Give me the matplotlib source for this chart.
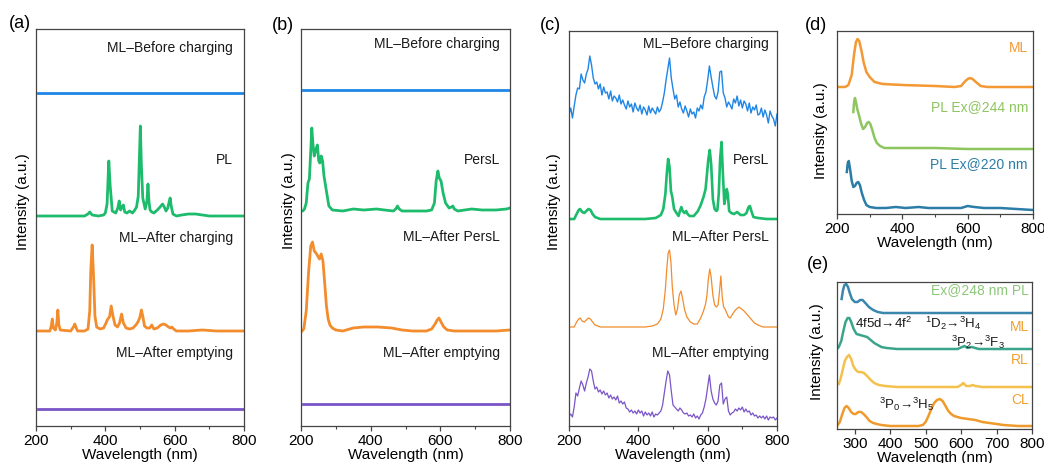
import matplotlib
matplotlib.use("Agg")
import matplotlib.pyplot as plt
import numpy as np
from matplotlib.ticker import MultipleLocator

plt.rcParams["font.family"] = ["Liberation Sans", "DejaVu Sans"]
plt.rcParams["mathtext.fontset"] = "custom"
plt.rcParams["mathtext.rm"] = "Liberation Sans"
plt.rcParams["mathtext.it"] = "Liberation Sans:italic"
plt.rcParams["mathtext.bf"] = "Liberation Sans:bold"

# ---------------- panel (a) ----------------
a_flat_wl = [205, 800]
a_flat_val = [0, 0]

a_pl_wl = [200, 340, 350, 355, 362, 380, 395, 400, 405, 410, 414, 420, 430, 436, 440, 444,
           448, 452, 456, 462, 470, 478, 485, 490, 495, 498, 501, 504, 508, 515, 520, 523,
           526, 529, 534, 540, 550, 558, 565, 570, 575, 580, 584, 587, 590, 595, 605, 620,
           640, 660, 680, 700, 720, 800]
a_pl_val = [0, 0, 2, 4, 1, 0, 1, 3, 12, 55, 30, 5, 3, 8, 15, 6,
            9, 11, 4, 3, 5, 3, 6, 9, 20, 55, 90, 50, 18, 7, 15, 32,
            14, 6, 4, 3, 6, 9, 12, 9, 5, 8, 14, 18, 10, 2, 0, 1,
            2, 2, 1, 0, 0, 0]

a_ml_wl = [205, 240, 244, 247, 250, 256, 260, 263, 266, 270, 300, 308, 312, 316, 320, 340,
           350, 355, 358, 362, 366, 370, 375, 385, 395, 402, 407, 412, 417, 422, 428, 435,
           441, 447, 452, 460, 470, 480, 488, 494, 500, 504, 508, 513, 520, 528, 534, 540,
           550, 560, 568, 575, 582, 588, 592, 597, 605, 640, 680, 720, 800]
a_ml_val = [0, 0, 5, 12, 3, 1, 8, 21, 6, 1, 0, 4, 7, 3, 0, 0,
            2, 20, 60, 86, 55, 15, 4, 2, 3, 8, 12, 14, 25, 15, 6, 4,
            8, 17, 8, 3, 2, 3, 6, 9, 14, 21, 15, 5, 3, 3, 6, 2,
            3, 6, 7, 6, 4, 3, 4, 2, 0, 0, 1, 0, 0]

a_offsets = [333, 210, 95, 17]
a_labels = ["ML\u2013Before charging", "PL", "ML\u2013After charging", "ML\u2013After emptying"]

# ---------------- panel (b) ----------------
b_persl_wl = [200, 205, 210, 215, 220, 224, 228, 231, 234, 238, 243, 247, 251, 254, 258, 262,
              266, 272, 280, 290, 320, 350, 380, 417, 440, 465, 472, 477, 482, 490, 520, 560,
              575, 583, 588, 593, 597, 602, 608, 615, 625, 632, 636, 640, 650, 670, 690, 720,
              760, 790, 800]
b_persl_val = [0, 0, 2, 8, 28, 32, 60, 83, 68, 55, 62, 66, 50, 48, 55, 50,
               35, 22, 5, 1, 0, 2, 1, 2, 1, 0, 2, 5, 2, 0, 0, 0,
               1, 8, 30, 40, 33, 30, 18, 8, 3, 4, 5, 2, 0, 1, 2, 1,
               1, 2, 3]

b_ml_wl = [203, 208, 215, 222, 228, 233, 238, 243, 248, 253, 258, 263, 268, 273, 278, 283,
           290, 300, 320, 350, 380, 420, 460, 490, 520, 560, 575, 585, 591, 596, 602, 610,
           620, 640, 680, 720, 760, 800]
b_ml_val = [0, 2, 20, 60, 85, 89, 80, 78, 75, 72, 77, 70, 48, 25, 12, 6,
            3, 1, 0, 3, 4, 4, 3, 1, 0, 0, 2, 7, 11, 13, 9, 4,
            1, 0, 0, 0, 0, 1]

b_offsets = [336, 215, 95, 22]
b_labels = ["ML\u2013Before charging", "PersL", "ML\u2013After PersL", "ML\u2013After emptying"]

# ---------------- panel (c) ----------------
c_noisy_wl = list(range(200, 801, 5))
c_before_val = [12, 18, 8, 20, 31, 38, 37, 52, 46, 43, 52, 57, 70, 61, 48, 42,
                44, 37, 42, 31, 39, 33, 34, 27, 35, 25, 30, 28, 24, 31, 22, 26,
                21, 17, 25, 19, 22, 14, 23, 18, 15, 21, 12, 19, 16, 11, 20, 13,
                18, 15, 12, 19, 14, 17, 24, 33, 46, 57, 68, 48, 37, 27, 31, 19,
                24, 17, 13, 20, 15, 9, 17, 12, 14, 8, 18, 15, 21, 17, 29, 34,
                46, 60, 49, 39, 30, 27, 34, 54, 55, 33, 28, 19, 24, 21, 17, 27,
                23, 30, 20, 26, 18, 25, 22, 15, 23, 13, 19, 16, 21, 11, 12, 18,
                9, 16, 11, 3, 15, 10, 7, 0, 12]
c_empty_val = [5, 7, 4, 14, 28, 25, 33, 40, 36, 30, 38, 44, 52, 50, 40, 32,
               34, 29, 31, 27, 30, 26, 28, 23, 26, 22, 24, 21, 25, 18, 20, 17,
               19, 13, 12, 9, 11, 8, 10, 7, 11, 8, 10, 5, 9, 6, 8, 5,
               9, 4, 7, 6, 8, 10, 16, 28, 40, 50, 46, 30, 16, 14, 12, 10,
               13, 11, 8, 7, 8, 5, 6, 4, 7, 3, 5, 2, 6, 8, 14, 22,
               34, 46, 30, 22, 18, 16, 20, 36, 38, 17, 22, 24, 10, 6, 8, 9,
               12, 10, 13, 11, 14, 9, 12, 9, 10, 6, 8, 5, 6, 3, 5, 3,
               5, 2, 5, 1, 4, 3, 4, 1, 3]

c_persl_wl = [200, 215, 222, 228, 232, 238, 244, 250, 256, 262, 268, 275, 290, 350, 420, 450,
              465, 472, 478, 482, 486, 490, 494, 498, 503, 510, 516, 520, 524, 528, 533, 538,
              542, 548, 560, 572, 580, 588, 594, 598, 602, 606, 610, 615, 620, 625, 628, 632,
              636, 640, 644, 648, 652, 655, 658, 662, 668, 676, 685, 695, 705, 712, 718, 722,
              726, 732, 745, 770, 800]
c_persl_val = [0, 0, 5, 9, 10, 7, 6, 8, 10, 9, 5, 2, 0, 0, 0, 1,
               4, 10, 25, 45, 60, 52, 28, 22, 10, 6, 3, 8, 12, 8, 6, 8,
               5, 3, 3, 8, 14, 22, 30, 45, 60, 69, 55, 20, 10, 8, 9, 25,
               60, 77, 45, 15, 22, 30, 25, 8, 6, 5, 7, 4, 4, 6, 12, 13,
               8, 2, 1, 0, 0]

c_ml_wl = [200, 215, 222, 228, 232, 238, 244, 250, 256, 262, 268, 275, 290, 350, 420, 440,
           455, 465, 472, 478, 482, 486, 490, 494, 498, 503, 508, 513, 518, 523, 528, 533,
           540, 550, 560, 570, 580, 588, 594, 598, 602, 606, 610, 615, 620, 625, 630, 634,
           638, 642, 646, 650, 655, 660, 665, 672, 680, 690, 698, 705, 715, 725, 735, 745,
           760, 780, 800]
c_ml_val = [0, 0, 5, 8, 9, 6, 5, 7, 9, 8, 5, 2, 0, 0, 0, 1,
            3, 8, 18, 38, 58, 74, 77, 65, 40, 22, 12, 18, 32, 36, 28, 18,
            10, 5, 3, 3, 9, 16, 23, 32, 48, 58, 50, 32, 22, 20, 22, 35,
            51, 30, 20, 18, 14, 10, 9, 13, 17, 20, 18, 16, 12, 8, 4, 2,
            0, 0, 0]

c_offsets = [300, 207, 99, 5]
c_labels = ["ML\u2013Before charging", "PersL", "ML\u2013After PersL", "ML\u2013After emptying"]

# ---------------- panel (d) ----------------
d_ml_wl = [200, 225, 235, 245, 252, 258, 263, 268, 275, 282, 290, 300, 315, 340, 400, 500,
           560, 580, 590, 600, 607, 615, 625, 640, 660, 700, 800]
d_ml_val = [0, 0, 2, 12, 32, 45, 48, 46, 36, 24, 15, 10, 5, 3, 2, 1,
            0, 1, 5, 8, 9, 8, 5, 1, 0, 0, 0]

d_pl244_wl = [250, 252, 255, 258, 262, 268, 274, 280, 286, 292, 297, 302, 308, 315, 322, 332,
              345, 400, 500, 600, 700, 800]
d_pl244_val = [37, 46, 51, 47, 40, 33, 25, 20, 22, 26, 27, 25, 19, 11, 6, 3,
               1, 1, 1, 0, 0, 0]

d_pl220_wl = [230, 233, 236, 240, 245, 250, 255, 260, 265, 270, 276, 283, 290, 300, 320, 350,
              380, 410, 450, 480, 520, 580, 600, 620, 650, 700, 750, 800]
d_pl220_val = [37, 46, 48, 40, 28, 22, 23, 26, 27, 24, 16, 9, 4, 2, 1, 1,
               2, 1, 2, 1, 1, 1, 3, 2, 1, 1, 0, -1]

d_offsets = [127, 65, 5]
d_labels = ["ML", "PL Ex@244 nm", "PL Ex@220 nm"]

# ---------------- panel (e) ----------------
e_pl_wl = [263, 267, 271, 276, 281, 286, 292, 300, 308, 315, 322, 330, 340, 352, 365, 380,
           420, 500, 600, 700, 800]
e_pl_val = [14, 23, 28, 29, 26, 20, 14, 11, 11, 13, 13, 10, 6, 3, 1, 0,
            0, 0, 0, 0, 0]

e_ml_wl = [250, 255, 262, 268, 274, 280, 285, 290, 297, 305, 315, 325, 335, 345, 355, 365,
           375, 390, 420, 500, 590, 603, 610, 618, 630, 650, 700, 800]
e_ml_val = [0, 2, 8, 18, 27, 31, 31, 27, 20, 15, 14, 13, 12, 9, 6, 4,
            2, 1, 0, 0, 0, 2, 3, 1, 2, 0, 0, 0]

e_rl_wl = [255, 260, 266, 272, 278, 284, 290, 296, 303, 310, 318, 326, 335, 345, 355, 368,
           385, 420, 500, 590, 600, 606, 614, 625, 633, 640, 660, 700, 800]
e_rl_val = [3, 8, 17, 26, 30, 32, 28, 21, 17, 15, 15, 14, 11, 7, 4, 2,
            1, 0, 0, 0, 2, 4, 1, 1, 2, 1, 0, 0, 0]

e_cl_wl = [250, 258, 265, 271, 277, 283, 290, 297, 303, 310, 318, 325, 333, 342, 352, 362,
           375, 400, 450, 480, 492, 500, 508, 516, 524, 532, 540, 548, 556, 564, 572, 580,
           600, 620, 640, 660, 680, 700, 720, 760, 800]
e_cl_val = [0, 4, 12, 18, 20, 18, 14, 12, 12, 14, 14, 12, 9, 5, 3, 2,
            1, 0, 0, 0, 1, 4, 10, 17, 23, 26, 27, 25, 20, 15, 12, 10,
            8, 7, 6, 4, 3, 2, 1, 0, 0]

e_offsets = [116, 80, 42, 3]
e_labels = ["Ex@248 nm PL", "ML", "RL", "CL"]

# colours
blue = "#1f86e6"
green = "#1dbb6c"
orange = "#f28c2c"
purple = "#7a55c8"
d_colors = ["#f39833", "#8dc55e", "#2b7ca6"]
e_colors = ["#3a86ad", "#3aa58b", "#f4c14d", "#ef9a2c"]
e_text_colors = ["#8dc77a", "#f0a030", "#f0a030", "#f0a030"]

W, H = 1044, 464
fig = plt.figure(figsize=(W / 100, H / 100), dpi=100)


def add_panel(left, top, right, bottom):
    return fig.add_axes([left / W, 1 - bottom / H, (right - left) / W, (bottom - top) / H])


def style_axis(ax, xlim, major, minor, ylabel_x, ylabel_y):
    ax.set_xlim(*xlim)
    ax.set_yticks([])
    ax.xaxis.set_major_locator(MultipleLocator(major))
    if minor:
        ax.xaxis.set_minor_locator(MultipleLocator(minor))
    ax.tick_params(axis="x", which="major", direction="out", length=3.5, width=0.9,
                   labelsize=11, pad=1.5, color="#444444")
    ax.tick_params(axis="x", which="minor", direction="out", length=2.5, width=0.8,
                   color="#444444")
    for sp in ax.spines.values():
        sp.set_color("#444444")
        sp.set_linewidth(0.9)
    ax.set_xlabel("Wavelength (nm)", fontsize=11, labelpad=0)
    ax.set_ylabel("Intensity (a.u.)", fontsize=11)
    ax.yaxis.set_label_coords(ylabel_x, ylabel_y)


def put_labels(ax, x, ys, labels, colors=None, size=10):
    for i, (y, lab) in enumerate(zip(ys, labels)):
        c = colors[i] if colors else "#1a1a1a"
        ax.text(x, y, lab, transform=ax.transAxes, ha="right", va="center",
                fontsize=size, color=c)


# (a)
ax_a = add_panel(36, 30, 244, 427)
ax_a.plot(a_flat_wl, np.array(a_flat_val) + a_offsets[0], color=blue, lw=2.0)
ax_a.plot(a_pl_wl, np.array(a_pl_val) + a_offsets[1], color=green, lw=2.0)
ax_a.plot(a_ml_wl, np.array(a_ml_val) + a_offsets[2], color=orange, lw=2.0)
ax_a.plot(a_flat_wl, np.array(a_flat_val) + a_offsets[3], color=purple, lw=2.0)
ax_a.set_ylim(0, 397)
style_axis(ax_a, (200, 800), 200, 100, -0.03, 0.567)
put_labels(ax_a, 0.947, [0.955, 0.673, 0.476, 0.186], a_labels)

# (b)
ax_b = add_panel(301, 30, 510, 427)
ax_b.plot(a_flat_wl, np.array(a_flat_val) + b_offsets[0], color=blue, lw=2.0)
ax_b.plot(b_persl_wl, np.array(b_persl_val) + b_offsets[1], color=green, lw=2.0)
ax_b.plot(b_ml_wl, np.array(b_ml_val) + b_offsets[2], color=orange, lw=2.0)
ax_b.plot(a_flat_wl, np.array(a_flat_val) + b_offsets[3], color=purple, lw=2.0)
ax_b.set_ylim(0, 397)
style_axis(ax_b, (200, 800), 200, 100, -0.024, 0.57)
put_labels(ax_b, 0.952, [0.965, 0.673, 0.479, 0.186], b_labels)

# (c)
ax_c = add_panel(569, 32, 777, 427)
ax_c.plot(c_noisy_wl, np.array(c_before_val) + c_offsets[0], color=blue, lw=1.0)
ax_c.plot(c_persl_wl, np.array(c_persl_val) + c_offsets[1], color=green, lw=1.9)
ax_c.plot(c_ml_wl, np.array(c_ml_val) + c_offsets[2], color=orange, lw=0.9)
ax_c.plot(c_noisy_wl, np.array(c_empty_val) + c_offsets[3], color=purple, lw=0.9)
ax_c.set_ylim(0, 395)
style_axis(ax_c, (200, 800), 200, 100, -0.038, 0.57)
put_labels(ax_c, 0.962, [0.970, 0.676, 0.481, 0.187], c_labels)

# (d)
ax_d = add_panel(837, 32, 1033, 215)
for wl, val, off, col in zip([d_ml_wl, d_pl244_wl, d_pl220_wl],
                             [d_ml_val, d_pl244_val, d_pl220_val], d_offsets, d_colors):
    ax_d.plot(wl, np.array(val) + off, color=col, lw=1.8)
ax_d.set_ylim(0, 183)
style_axis(ax_d, (200, 800), 200, 100, -0.046, 0.46)
put_labels(ax_d, 0.974, [0.913, 0.590, 0.279], d_labels, d_colors, size=10)

# (e)
ax_e = add_panel(837, 283, 1032, 430)
for wl, val, off, col in zip([e_pl_wl, e_ml_wl, e_rl_wl, e_cl_wl],
                             [e_pl_val, e_ml_val, e_rl_val, e_cl_val], e_offsets, e_colors):
    ax_e.plot(wl, np.array(val) + off, color=col, lw=1.8)
ax_e.set_ylim(0, 147)
style_axis(ax_e, (250, 800), 100, None, -0.067, 0.53)
put_labels(ax_e, 0.985, [0.955, 0.701, 0.476, 0.204], e_labels, e_text_colors, size=10)

note_kw = dict(transform=ax_e.transAxes, ha="left", va="center", fontsize=9.5, color="#1a1a1a")
ax_e.text(0.092, 0.725, "4f5d\u21924f$^2$", **note_kw)
ax_e.text(0.451, 0.725, "$^1$D$_2$\u2192$^3$H$_4$", **note_kw)
ax_e.text(0.585, 0.595, "$^3$P$_2$\u2192$^3$F$_3$", **note_kw)
ax_e.text(0.215, 0.177, "$^3$P$_0$\u2192$^3$H$_5$", **note_kw)

# panel letters
for lab, x, y in [("(a)", 9, 24), ("(b)", 272, 25), ("(c)", 540, 25),
                  ("(d)", 805, 25), ("(e)", 807, 265)]:
    fig.text(x / W, 1 - y / H, lab, fontsize=13, ha="left", va="center")

fig.savefig("out.png", dpi=100)
